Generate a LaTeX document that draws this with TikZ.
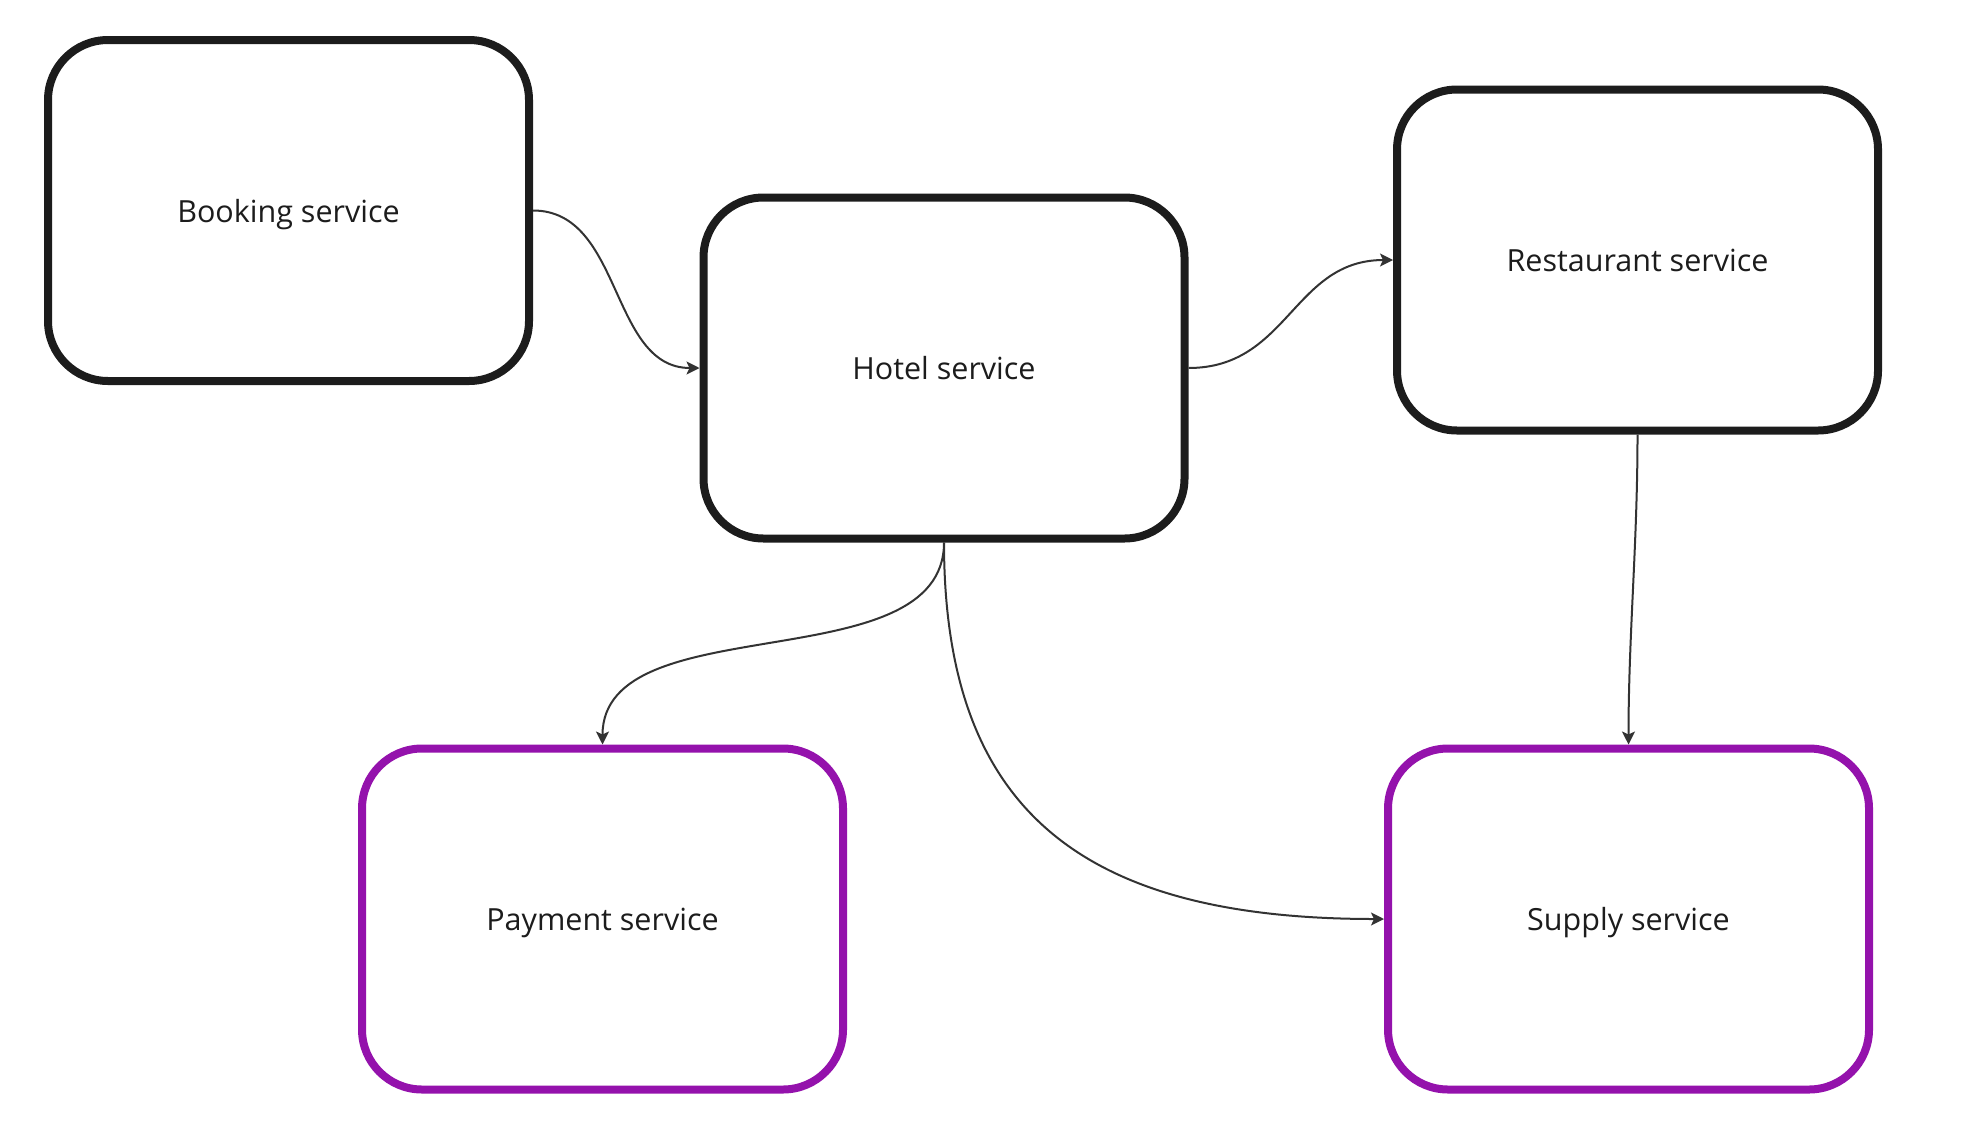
\documentclass[tikz,border=0pt]{standalone}
\usepackage{fontspec}
\setmainfont{Open Sans}
\usetikzlibrary{arrows.meta}
\definecolor{boxblack}{HTML}{1C1C1C}
\definecolor{linegray}{HTML}{333333}
\definecolor{boxpurple}{HTML}{9412AC}
\tikzset{
  svc/.style={draw=boxblack, line width=8pt, rounded corners=60pt, fill=white,
    minimum width=481pt, minimum height=341pt, text=boxblack,
    font=\fontsize{30.5pt}{34pt}\selectfont, inner sep=0pt, text depth=0pt},
  svcp/.style={svc, draw=boxpurple},
  conn/.style={draw=linegray, line width=2pt, -{Stealth[length=13pt,width=13pt,inset=3pt]}},
}
\begin{document}
\begin{tikzpicture}[x=1pt,y=-1pt]
\useasboundingbox (0,0) rectangle (1985,1146);
\node[svc] (booking) at (288.5,210.5) {Booking service};
\node[svc] (hotel) at (944,368) {Hotel service};
\node[svc] (rest) at (1637.5,260) {Restaurant service};
\node[svcp] (pay) at (602.5,919) {Payment service};
\node[svcp] (supply) at (1628.5,919) {Supply service};
\draw[conn] (booking.east) .. controls +(90,0) and +(-90,0) .. (hotel.west);
\draw[conn] (hotel.east) .. controls +(100,0) and +(-100,0) .. (rest.west);
\draw[conn] (hotel.south) .. controls +(0,140) and +(0,-140) .. (pay.north);
\draw[conn] (hotel.south) .. controls +(0,270) and +(-300,0) .. (supply.west);
\draw[conn] (rest.south) .. controls +(0,110) and +(0,-110) .. (supply.north);
\end{tikzpicture}
\end{document}
